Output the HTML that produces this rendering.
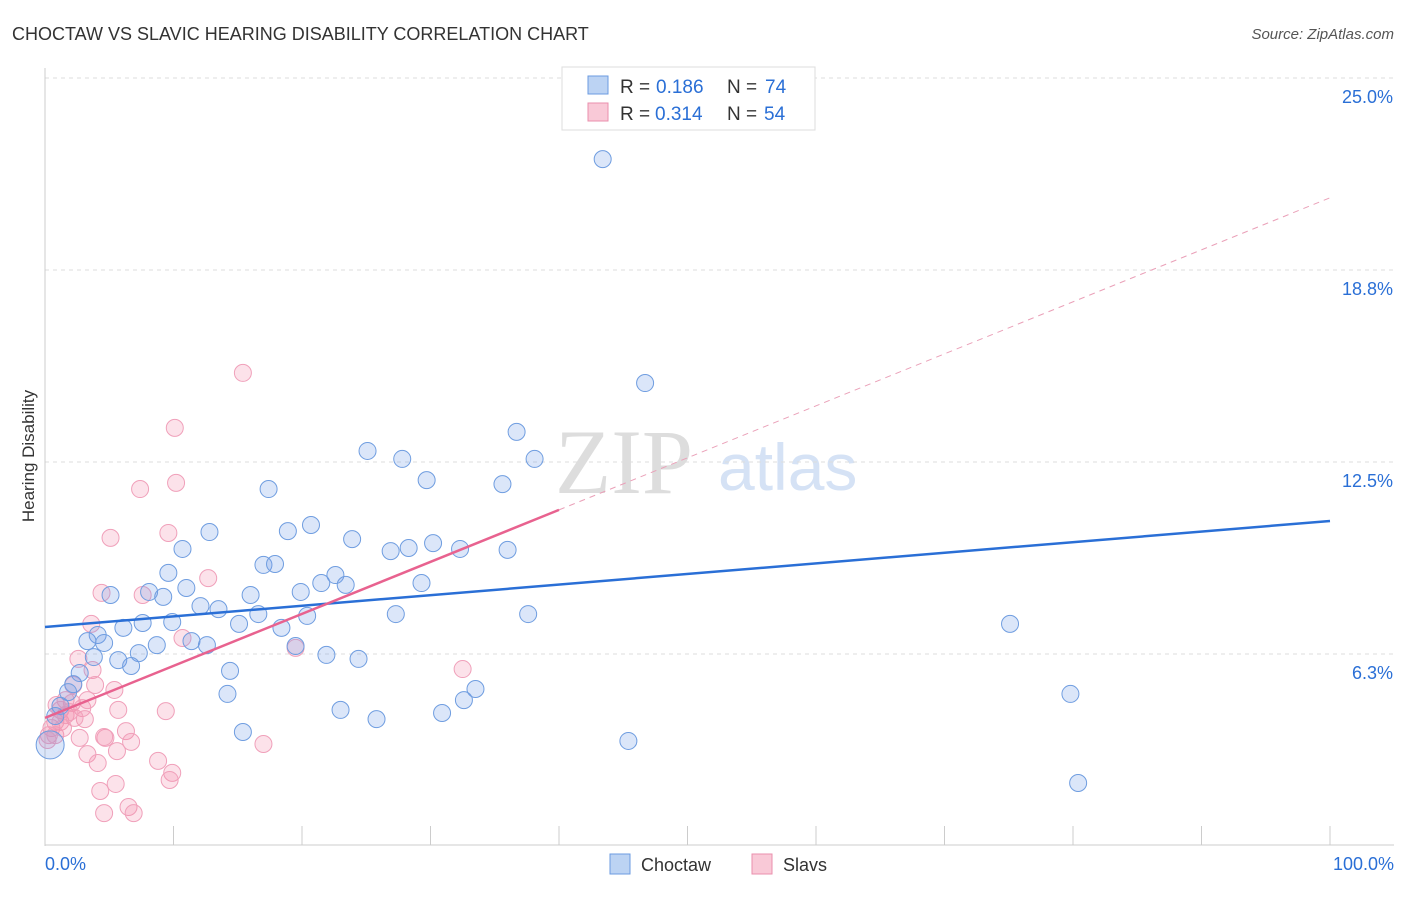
<!DOCTYPE html>
<html><head><meta charset="utf-8"><style>
body{margin:0;background:#fff;font-family:"Liberation Sans",sans-serif}
</style></head><body>
<svg id="chart" width="1406" height="892" xmlns="http://www.w3.org/2000/svg">
<text x="12" y="40" font-size="18" fill="#333">CHOCTAW VS SLAVIC HEARING DISABILITY CORRELATION CHART</text>
<text x="1394" y="39" font-size="15" fill="#555" font-style="italic" text-anchor="end">Source: ZipAtlas.com</text>
<text x="34" y="456" font-size="17" fill="#333" transform="rotate(-90 34 456)" text-anchor="middle">Hearing Disability</text>
<g>
<text x="555" y="493" font-size="92" font-family="Liberation Serif" fill="#ddd">ZIP</text>
<text x="718" y="490" font-size="66" fill="#d5e2f5">atlas</text>
</g>
<g id="grid"></g><g id="axes"></g><g id="pts"></g><g id="lines"></g>
<g>
<rect x="562" y="67" width="253" height="63" fill="#fff" stroke="#ddd"/>
<rect x="588" y="76" width="20" height="18" fill="#bcd3f3" stroke="#6b9be0"/>
<rect x="588" y="103" width="20" height="18" fill="#f9c9d7" stroke="#ea8fac"/>
<text x="620" y="93" font-size="19" fill="#333">R =</text>
<text x="656" y="93" font-size="19" fill="#2a6fd6">0.186</text>
<text x="727" y="93" font-size="19" fill="#333">N =</text>
<text x="765" y="93" font-size="19" fill="#2a6fd6">74</text>
<text x="620" y="120" font-size="19" fill="#333">R =</text>
<text x="655" y="120" font-size="19" fill="#2a6fd6">0.314</text>
<text x="727" y="120" font-size="19" fill="#333">N =</text>
<text x="764" y="120" font-size="19" fill="#2a6fd6">54</text>
</g>
<g>
<rect x="610" y="854" width="20" height="20" fill="#bcd3f3" stroke="#6b9be0"/>
<text x="641" y="871" font-size="18" fill="#333">Choctaw</text>
<rect x="752" y="854" width="20" height="20" fill="#f9c9d7" stroke="#ea8fac"/>
<text x="783" y="871" font-size="18" fill="#333">Slavs</text>
</g>
<text x="45" y="870" font-size="18" fill="#2a6fd6">0.0%</text>
<text x="1394" y="870" font-size="18" fill="#2a6fd6" text-anchor="end">100.0%</text>
</svg>
<script>
const yTicks=[25,18.75,12.5,6.25];
const yTickLabels=["25.0%","18.8%","12.5%","6.3%"];
const blueX=[43.4,46.7,36.7,25.1,27.8,38.1,29.7,35.6,17.4,20.7,12.8,18.9,10.7,23.9,26.9,28.3,30.2,32.3,36.0,17.0,17.9,9.6,8.1,9.2,5.1,11.0,22.6,21.5,23.4,29.3,19.9,16.0,12.1,13.5,7.6,9.9,6.1,15.1,16.6,20.4,27.3,37.6,75.1,4.1,3.3,4.6,11.4,12.6,8.7,18.4,7.3,19.5,5.7,6.7,21.9,24.4,3.8,2.7,2.2,1.8,14.4,14.2,33.5,32.6,79.8,23.0,25.8,30.9,15.4,45.4,80.4,1.2,0.8,0.4];
const blueY=[22.36,15.07,13.48,12.86,12.60,12.60,11.91,11.78,11.62,10.45,10.22,10.25,9.67,9.99,9.60,9.70,9.86,9.67,9.64,9.15,9.18,8.89,8.27,8.11,8.17,8.40,8.82,8.56,8.50,8.56,8.27,8.17,7.81,7.71,7.26,7.29,7.10,7.23,7.55,7.49,7.55,7.55,7.23,6.87,6.67,6.61,6.67,6.54,6.54,7.10,6.28,6.51,6.05,5.86,6.22,6.09,6.15,5.63,5.27,5.01,5.70,4.95,5.11,4.75,4.95,4.43,4.13,4.33,3.71,3.42,2.05,4.56,4.23,3.29];
const pinkX=[15.4,10.1,10.2,7.4,9.6,5.1,12.7,4.4,7.6,3.6,10.7,19.5,32.5,2.6,3.7,2.2,3.9,5.4,1.6,2.1,2.9,5.7,9.4,3.1,1.2,0.8,0.5,0.3,2.7,4.7,6.3,6.7,4.6,17.0,3.3,5.6,4.1,8.8,9.9,9.7,5.5,4.3,6.5,4.6,6.9,1.2,1.6,0.8,0.2,0.9,2.3,3.3,1.4,1.9];
const pinkY=[15.40,13.61,11.82,11.62,10.19,10.03,8.72,8.24,8.17,7.23,6.77,6.45,5.76,6.09,5.73,5.24,5.24,5.08,4.75,4.66,4.49,4.43,4.39,4.13,4.43,4.04,3.84,3.61,3.52,3.52,3.74,3.39,3.55,3.32,2.99,3.09,2.70,2.77,2.38,2.15,2.02,1.79,1.27,1.07,1.07,4.04,4.26,3.61,3.45,4.59,4.17,4.75,3.84,4.36];
const blueLine=[7.13,10.58];
const pinkLine=[4.17,21.1];
const pinkSolidEnd=40;
const NS="http://www.w3.org/2000/svg";
const sx=v=>45+v*12.85, sy=v=>846-v*30.72;
function mk(t,a,p){const e=document.createElementNS(NS,t);for(const k in a)e.setAttribute(k,a[k]);p.appendChild(e);return e;}
const grid=document.getElementById('grid'),axes=document.getElementById('axes'),pts=document.getElementById('pts'),lines=document.getElementById('lines');
yTicks.forEach((v,i)=>{
 const l=mk('line',{x1:45,x2:1394,y1:sy(v),y2:sy(v),stroke:'#ddd','stroke-dasharray':'4 4'},grid);
 
 
 const t=mk('text',{x:1393,y:sy(v)+25,'font-size':18,fill:'#2a6fd6','text-anchor':'end'},grid);
 t.textContent=yTickLabels[i];
 
 
});
const ax=mk('line',{x1:45,x2:45,y1:68,y2:846,stroke:'#ccc'},axes);


const bx=mk('line',{x1:45,x2:1394,y1:845,y2:845,stroke:'#ccc'},axes);


for(let i=0;i<=10;i++){const t=mk('line',{x1:sx(i*10),x2:sx(i*10),y1:826,y2:845,stroke:'#ccc'},axes);
 
 }
pinkX.forEach((x,i)=>{const c=mk('circle',{cx:sx(x),cy:sy(pinkY[i]),r:8.5,fill:'rgba(242,140,172,0.25)',stroke:'#f0a0ba','stroke-width':1},pts);
 
 });
blueX.forEach((x,i)=>{const c=mk('circle',{cx:sx(x),cy:sy(blueY[i]),r:i==blueX.length-1?14:8.5,fill:'rgba(110,155,230,0.25)',stroke:'#6f9de0','stroke-width':1},pts);
 
 });
const pl=v=>pinkLine[0]+(pinkLine[1]-pinkLine[0])*v/100;
const l1=mk('line',{x1:sx(0),y1:sy(blueLine[0]),x2:sx(100),y2:sy(blueLine[1]),stroke:'#2a6fd6','stroke-width':2.5},lines);


const l2=mk('line',{x1:sx(0),y1:sy(pl(0)),x2:sx(pinkSolidEnd),y2:sy(pl(pinkSolidEnd)),stroke:'#e8628f','stroke-width':2.5},lines);


const l3=mk('line',{x1:sx(pinkSolidEnd),y1:sy(pl(pinkSolidEnd)),x2:sx(100),y2:sy(pl(100)),stroke:'#eaa0b8','stroke-width':1,'stroke-dasharray':'6 5'},lines);


</script>
</body></html>
